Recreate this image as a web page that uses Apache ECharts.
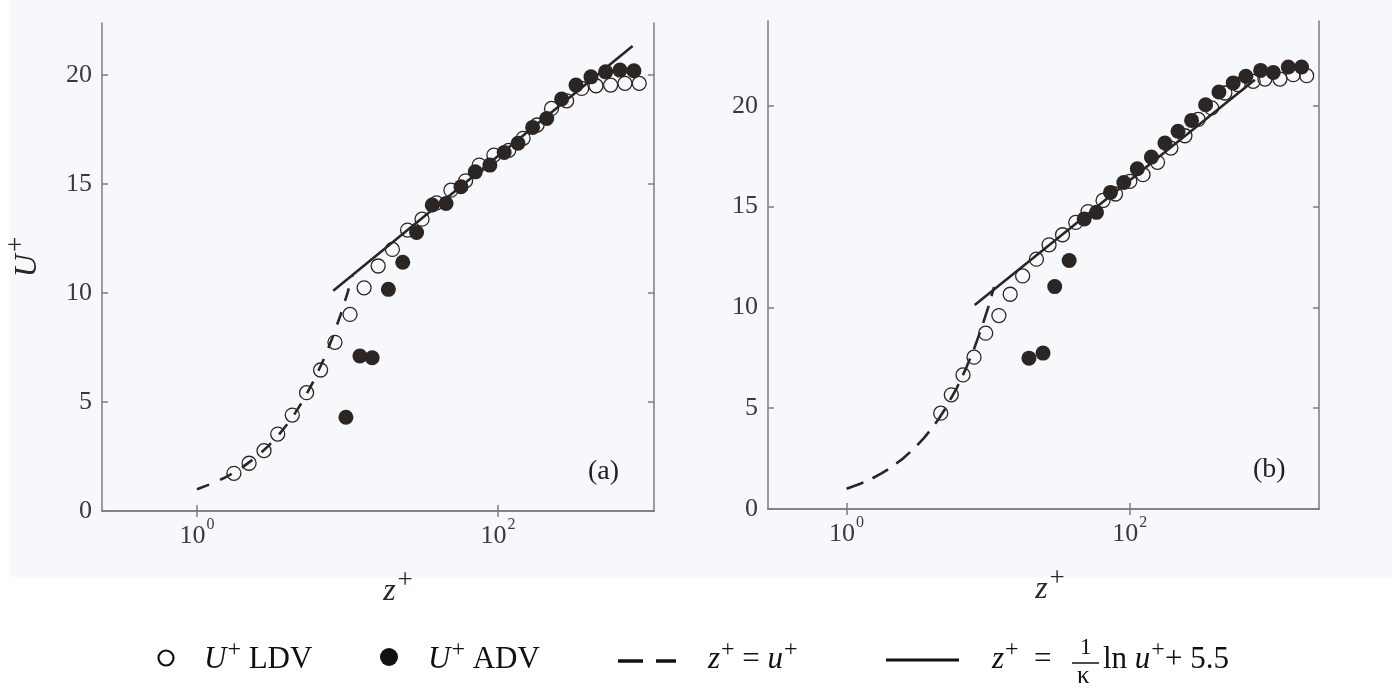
<!DOCTYPE html>
<html><head><meta charset="utf-8">
<script src="https://cdn.jsdelivr.net/npm/echarts@6/dist/echarts.min.js"></script>
<style>html,body{margin:0;padding:0;background:#fff}#c{width:1392px;height:691px}</style>
</head><body><div id="c"></div>
<script>
// ---------- data ----------
const xTickValues = [1, 100];
const yTickValues = [0, 5, 10, 15, 20];

// Panel (a)
const ldvA_z = [1.76,2.22,2.79,3.44,4.30,5.35,6.63,8.26,10.4,12.9,16.0,19.9,25.1,31.3,39.1,48.7,61.0,75.1,94.0,118,147,182,227,286,360,448,561,698,869];
const ldvA_u = [1.73,2.19,2.77,3.53,4.40,5.43,6.47,7.74,9.02,10.24,11.24,12.0,12.89,13.39,14.14,14.72,15.15,15.87,16.33,16.55,17.10,17.71,18.47,18.82,19.39,19.51,19.54,19.62,19.62];
const advA_z = [9.77,12.1,14.6,18.7,23.3,28.8,36.6,45.2,56.8,70.7,88.4,110,136,170,211,265,330,415,520,647,801];
const advA_u = [4.30,7.11,7.03,10.17,11.41,12.78,14.04,14.11,14.88,15.56,15.87,16.45,16.87,17.60,18.01,18.90,19.54,19.92,20.15,20.23,20.20];
const viscA_z = [1,1.25,1.5,1.75,2,2.5,3,3.5,4,4.5,5,6,7,8,9,10,10.8];
const viscA_u = [1,1.25,1.5,1.75,2,2.5,3,3.5,4,4.5,5,6,7,8,9,10,10.8];
const logA_z = [8.05, 785];
const logA_u = [10.1, 21.33];

// Panel (b)
const ldvB_z = [4.62,5.49,6.64,7.94,9.60,11.9,14.3,17.5,21.9,26.9,33.5,41.5,50.7,64.7,79.2,100,124,157,195,245,304,378,469,582,743,900,1148,1426,1774];
const ldvB_u = [4.75,5.66,6.65,7.53,8.72,9.59,10.65,11.56,12.39,13.10,13.60,14.21,14.75,15.30,15.62,16.25,16.58,17.19,17.90,18.51,19.32,19.89,20.63,21.04,21.21,21.32,21.32,21.54,21.49];
const advB_z = [19.4,24.4,29.5,37.3,47.6,58.2,73.0,90.7,113,142,177,219,273,343,426,537,660,839,1031,1315,1634];
const advB_u = [7.48,7.73,11.03,12.32,14.38,14.71,15.70,16.19,16.87,17.45,18.15,18.73,19.27,20.05,20.68,21.13,21.46,21.75,21.65,21.92,21.92];
const viscB_z = [1,1.25,1.5,1.75,2,2.5,3,3.5,4,4.5,5,6,7,8,9,10,11];
const viscB_u = [1,1.25,1.5,1.75,2,2.5,3,3.5,4,4.5,5,6,7,8,9,10,11];
const logB_z = [8.03, 764];
const logB_u = [10.12, 21.29];

// ---------- styling ----------
const SERIF = '"Liberation Serif","DejaVu Serif",serif';
const DARK = '#2b2624';
const AXIS = '#7d7d7d';
const LABEL = '#3a3a3a';

function zip(a, b) { return a.map((v, i) => [v, b[i]]); }

const tickRich = {
  b: { fontFamily: SERIF, fontSize: 26, color: LABEL, verticalAlign: 'bottom' },
  s: { fontFamily: SERIF, fontSize: 16, color: LABEL, verticalAlign: 'bottom', padding: [0, 0, 16, 1] }
};
const nameRich = {
  i: { fontFamily: SERIF, fontStyle: 'italic', fontSize: 32, color: DARK, verticalAlign: 'bottom' },
  sup: { fontFamily: SERIF, fontSize: 27, color: DARK, verticalAlign: 'bottom', padding: [0, 0, 14, 2] }
};

function xAxes(gi, min, max, padLeft) {
  const common = {
    type: 'log', logBase: 10, gridIndex: gi, min: min, max: max,
    axisLine: { show: true, lineStyle: { color: AXIS, width: 1.5 } },
    axisTick: { show: true, inside: true, length: 6, customValues: xTickValues, lineStyle: { color: AXIS, width: 1.5 } },
    splitLine: { show: false }, minorTick: { show: false }, minorSplitLine: { show: false }
  };
  return [
    Object.assign({}, common, {
      position: 'bottom',
      axisLabel: {
        customValues: xTickValues, margin: 6,
        formatter: v => '{b|10}{s|' + Math.round(Math.log10(v)) + '}',
        rich: tickRich
      },
      name: '{i|z}{sup|+}', nameLocation: 'middle', nameGap: 56,
      nameTextStyle: { rich: nameRich, padding: [0, 0, 0, padLeft] }
    }),
    Object.assign({}, common, { position: 'top', axisLabel: { show: false } })
  ];
}
function yAxes(gi, max, withName) {
  const common = {
    type: 'value', gridIndex: gi, min: 0, max: max,
    axisLine: { show: true, lineStyle: { color: AXIS, width: 1.5 } },
    axisTick: { show: true, inside: true, length: 6, customValues: yTickValues, lineStyle: { color: AXIS, width: 1.5 } },
    splitLine: { show: false }
  };
  const left = Object.assign({}, common, {
    position: 'left',
    axisLabel: { customValues: yTickValues, margin: 10, fontFamily: SERIF, fontSize: 26, color: LABEL }
  });
  if (withName) {
    Object.assign(left, {
      name: '{i|U}{sup|+}', nameLocation: 'middle', nameRotate: 90, nameGap: 58,
      nameTextStyle: { rich: nameRich, padding: [0, 0, 0, 20] }
    });
  }
  return [left, Object.assign({}, common, { position: 'right', axisLabel: { show: false } })];
}

function panelSeries(xi, yi, ldvZ, ldvU, advZ, advU, visZ, visU, logZ, logU, dash) {
  return [
    { type: 'line', name: 'z+ = u+', xAxisIndex: xi, yAxisIndex: yi, data: zip(visZ, visU),
      showSymbol: false, symbol: 'none', lineStyle: { color: DARK, width: 2.6, type: dash }, z: 2 },
    { type: 'line', name: 'log law', xAxisIndex: xi, yAxisIndex: yi, data: zip(logZ, logU),
      showSymbol: false, symbol: 'none', lineStyle: { color: DARK, width: 2.6 }, z: 2 },
    { type: 'scatter', name: 'U+ LDV', xAxisIndex: xi, yAxisIndex: yi, data: zip(ldvZ, ldvU),
      symbol: 'circle', symbolSize: 14,
      itemStyle: { color: 'rgba(0,0,0,0)', borderColor: DARK, borderWidth: 1.3, opacity: 1 }, z: 3 },
    { type: 'scatter', name: 'U+ ADV', xAxisIndex: xi, yAxisIndex: yi, data: zip(advZ, advU),
      symbol: 'circle', symbolSize: 15, itemStyle: { color: DARK, opacity: 1 }, z: 4 }
  ];
}

const LF = 31;
const legRich = {
  i: { fontFamily: SERIF, fontStyle: 'italic', fontSize: LF, fill: '#111', verticalAlign: 'bottom' },
  r: { fontFamily: SERIF, fontSize: LF, fill: '#111', verticalAlign: 'bottom' },
  sup: { fontFamily: SERIF, fontSize: 24, fill: '#111', verticalAlign: 'bottom', padding: [0, 0, 13, 1] }
};
function legText(x, y, txt) {
  return { type: 'text', left: x, top: y, silent: true,
    style: { text: txt, rich: legRich, fill: '#111', font: LF + 'px ' + SERIF } };
}

const chart = echarts.init(document.getElementById('c'), null, { renderer: 'canvas' });
chart.setOption({
  animation: false,
  backgroundColor: '#ffffff',
  grid: [
    { left: 102, top: 23, width: 552, height: 488 },
    { left: 768, top: 21, width: 551, height: 488 }
  ],
  xAxis: [].concat(xAxes(0, Math.pow(10, -0.631), Math.pow(10, 3.037), 40),
                   xAxes(1, Math.pow(10, -0.555), Math.pow(10, 3.336), 13)),
  yAxis: [].concat(yAxes(0, 22.39, true), yAxes(1, 24.2, false)),
  series: [].concat(
    panelSeries(0, 0, ldvA_z, ldvA_u, advA_z, advA_u, viscA_z, viscA_u, logA_z, logA_u, [13, 12]),
    panelSeries(2, 2, ldvB_z, ldvB_u, advB_z, advB_u, viscB_z, viscB_u, logB_z, logB_u, [18, 10])
  ),
  graphic: [
    { type: 'rect', z: -10, silent: true, shape: { x: 10, y: 0, width: 1382, height: 577 }, style: { fill: '#f7f8fc' } },
    { type: 'text', left: 588, top: 458, silent: true, style: { text: '(a)', font: '28px ' + SERIF, fill: '#222' } },
    { type: 'text', left: 1253, top: 456, silent: true, style: { text: '(b)', font: '28px ' + SERIF, fill: '#222' } },
    // legend
    { type: 'circle', silent: true, shape: { cx: 166, cy: 658, r: 7.5 }, style: { fill: 'none', stroke: '#111', lineWidth: 2.2 } },
    legText(204, 638, '{i|U}{sup|+}{r| LDV}'),
    { type: 'circle', silent: true, shape: { cx: 389, cy: 657, r: 9 }, style: { fill: '#111' } },
    legText(428, 638, '{i|U}{sup|+}{r| ADV}'),
    { type: 'line', silent: true, shape: { x1: 618, y1: 661, x2: 643, y2: 661 }, style: { stroke: '#111', lineWidth: 3.5 } },
    { type: 'line', silent: true, shape: { x1: 656, y1: 661, x2: 676, y2: 661 }, style: { stroke: '#111', lineWidth: 3.5 } },
    legText(708, 638, '{i|z}{sup|+}{r| = }{i|u}{sup|+}'),
    { type: 'line', silent: true, shape: { x1: 886, y1: 660, x2: 959, y2: 660 }, style: { stroke: '#111', lineWidth: 3 } },
    legText(992, 638, '{i|z}{sup|+}{r|  = }'),
    { type: 'text', left: 1080, top: 636, silent: true, style: { text: '1', font: '23px ' + SERIF, fill: '#111' } },
    { type: 'line', silent: true, shape: { x1: 1072, y1: 663, x2: 1099, y2: 663 }, style: { stroke: '#111', lineWidth: 1.5 } },
    { type: 'text', left: 1077, top: 664, silent: true, style: { text: 'κ', font: '25px ' + SERIF, fill: '#111' } },
    legText(1103, 638, '{r|ln }{i|u}{sup|+}{r|+ 5.5}')
  ]
});
</script></body></html>
